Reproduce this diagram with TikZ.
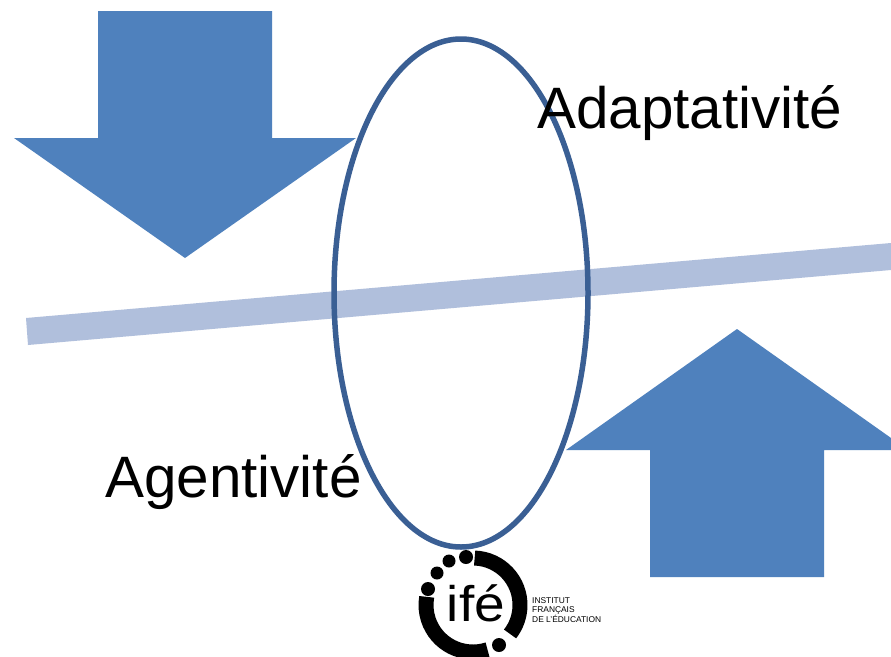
\documentclass[tikz,border=0pt]{standalone}
\usepackage{fontspec}
\setmainfont{Liberation Sans}
\definecolor{arrowblue}{HTML}{4F81BD}
\definecolor{bandblue}{HTML}{B0BFDC}
\definecolor{ringblue}{HTML}{3A5F94}
\tikzset{
  bigarrow/.style={fill=arrowblue,draw=none},
  bigtext/.style={font=\fontsize{58.4}{60}\selectfont,inner sep=0pt,anchor=base west,text=black},
  logotext/.style={font=\fontsize{8.4}{9.5}\selectfont,inner sep=0pt,anchor=base west,text=black},
  ringdot/.style={fill=black,draw=none},
  ringarc/.style={draw=black,line width=15pt}
}
\begin{document}
\begin{tikzpicture}[x=1pt,y=-1pt]
\useasboundingbox (0,0) rectangle (891,656);
\clip (0,0) rectangle (891,656);
\fill[white] (0,0) rectangle (891,656);
% arrows
\path[bigarrow] (98,11) -- (272,11) -- (272,138) -- (356,138) -- (185,258) -- (14,138) -- (98,138) -- cycle;
\path[bigarrow] (737,329) -- (908,450) -- (824,450) -- (824,577) -- (650,577) -- (650,450) -- (566,450) -- cycle;
% band
\fill[bandblue] (26,318) -- (891,243) -- (891,270) -- (28,345) -- cycle;
% ellipse
\draw[ringblue,line width=5.5pt] (461,293) ellipse [x radius=127,y radius=254];
% labels
\node[bigtext] (adapt) at (537,128) {Adaptativité};
\node[bigtext] (agent) at (105,497) {Agentivité};
% logo
\draw[ringarc] (473,605) ++(-88:47) arc[start angle=-88,end angle=38,radius=47];
\draw[ringarc] (473,605) ++(72:47) arc[start angle=72,end angle=190,radius=47];
\fill[ringdot] (428,589) circle (7);
\fill[ringdot] (437,573) circle (6.5);
\fill[ringdot] (449,561) circle (6.5);
\fill[ringdot] (466,557) circle (7);
\fill[ringdot] (499,645) circle (7);
\node[font=\fontsize{50}{50}\selectfont,inner sep=0pt,anchor=base,xscale=1.1] (ife) at (476,621) {ifé};
\node[logotext] (l1) at (532,603) {INSTITUT};
\node[logotext] (l2) at (532,612.5) {FRANÇAIS};
\node[logotext] (l3) at (532,622) {DE L'ÉDUCATION};
\end{tikzpicture}
\end{document}
